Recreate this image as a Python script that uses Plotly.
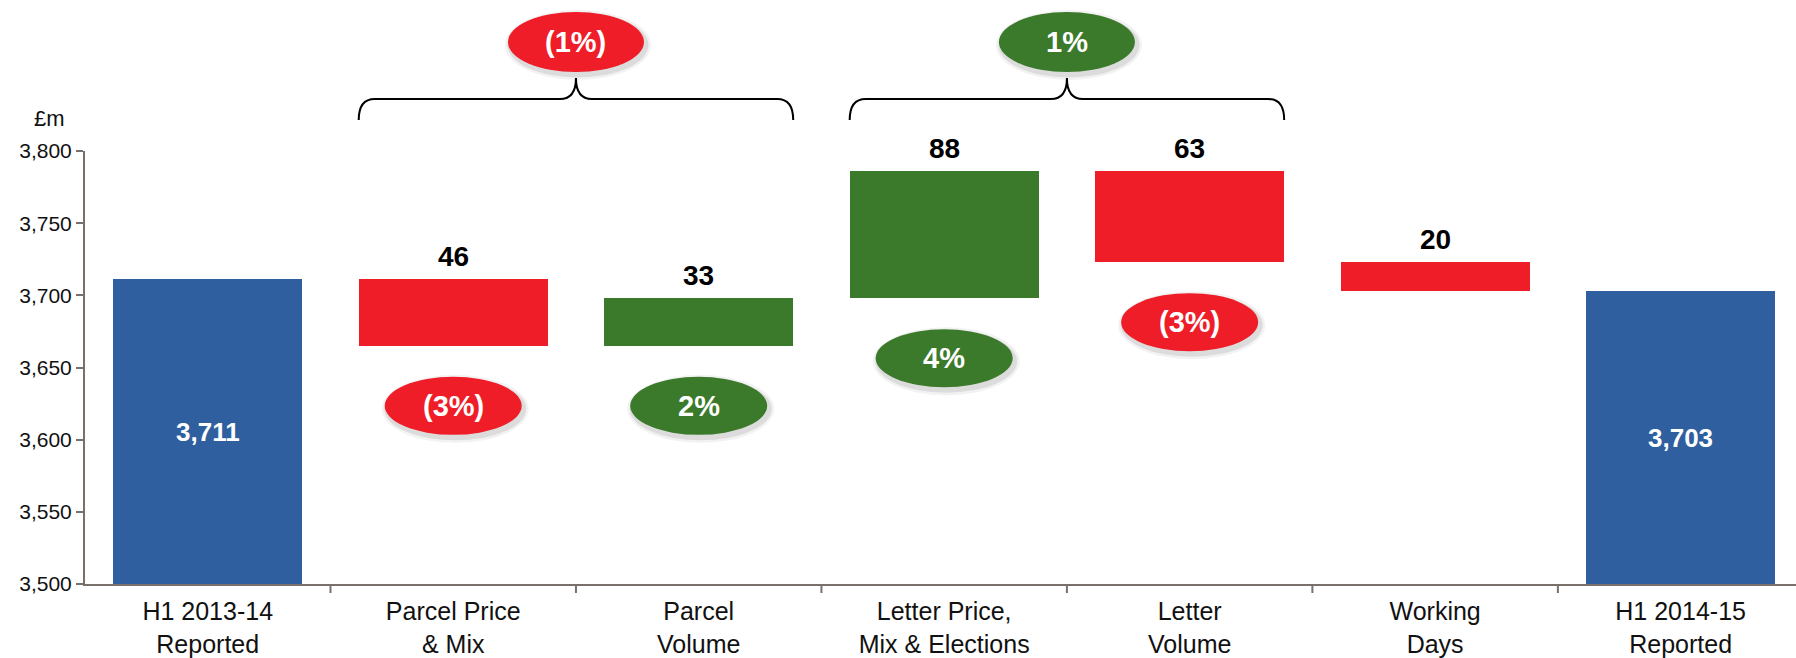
import plotly.graph_objects as go

# ---- data -------------------------------------------------------------
categories = [
    "H1 2013-14<br>Reported",
    "Parcel Price<br>& Mix",
    "Parcel<br>Volume",
    "Letter Price,<br>Mix & Elections",
    "Letter<br>Volume",
    "Working<br>Days",
    "H1 2014-15<br>Reported",
]
opening_total = 3711
movements = [-46, 33, 88, -63, -20]
closing_total = 3703
movement_pct = ["(3%)", "2%", "4%", "(3%)", None]
group_members = [(1, 2), (3, 4)]
group_pct = ["(1%)", "1%"]
y_ticks = [3500, 3550, 3600, 3650, 3700, 3750, 3800]

# ---- styling ----------------------------------------------------------
BLUE = "#305f9f"
RED = "#ee1d27"
GREEN = "#3b7a2b"
AXIS = "#7a706b"
FONT = "Liberation Sans, Arial, sans-serif"

W, H = 1796, 658
ML, MR, MT, MB = 85, 0, 151, 74
PW, PH = W - ML - MR, H - MT - MB
Y0, Y1 = y_ticks[0], y_ticks[-1]
XR0, XR1 = -0.5, 6.47
BAR_W = 0.77
CAT_PX = PW / (XR1 - XR0)

# ---- bar geometry from the running total -----------------------------
bases, heights, colors = [Y0], [opening_total - Y0], [BLUE]
level = opening_total
for d in movements:
    lo, hi = min(level, level + d), max(level, level + d)
    bases.append(lo)
    heights.append(hi - lo)
    colors.append(GREEN if d > 0 else RED)
    level += d
bases.append(Y0)
heights.append(closing_total - Y0)
colors.append(BLUE)


def cx_px(i):
    return ML + (i - XR0) * CAT_PX


def v_px(v):
    return MT + PH - (v - Y0) / (Y1 - Y0) * PH


def to_px_paper(x, y):
    return (x - ML) / PW, (MT + PH - y) / PH


fig = go.Figure(
    go.Bar(
        x=list(range(len(categories))),
        y=heights,
        base=bases,
        width=BAR_W,
        marker=dict(color=colors, line=dict(width=0)),
        hoverinfo="skip",
    )
)

shapes = []
annotations = []


def ellipse(cx, cy, w, h, color, text):
    # soft drop shadow, then the filled ellipse and its label
    for grow, alpha in ((10, 0.05), (5, 0.09)):
        ax0, ay0 = to_px_paper(cx - w / 2 - grow / 2 + 2, cy - h / 2 - grow / 2 + 3)
        ax1, ay1 = to_px_paper(cx + w / 2 + grow / 2 + 2, cy + h / 2 + grow / 2 + 3)
        shapes.append(dict(type="circle", xref="paper", yref="paper",
                           x0=ax0, x1=ax1, y0=ay1, y1=ay0,
                           fillcolor=f"rgba(0,0,0,{alpha})", line=dict(width=0)))
    ax0, ay0 = to_px_paper(cx - w / 2, cy - h / 2)
    ax1, ay1 = to_px_paper(cx + w / 2, cy + h / 2)
    shapes.append(dict(type="circle", xref="paper", yref="paper",
                       x0=ax0, x1=ax1, y0=ay1, y1=ay0,
                       fillcolor=color, line=dict(width=0)))
    tx, ty = to_px_paper(cx, cy)
    annotations.append(dict(x=tx, y=ty, xref="paper", yref="paper", text=text,
                            showarrow=False, xanchor="center", yanchor="middle",
                            font=dict(family=FONT, size=29, color="white", weight="bold")))


# value labels
for i, (b, h) in enumerate(zip(bases, heights)):
    if i in (0, len(categories) - 1):
        annotations.append(dict(x=i, y=b + h / 2, xref="x", yref="y",
                                text=f"{b + h:,}", showarrow=False,
                                xanchor="center", yanchor="middle",
                                font=dict(family=FONT, size=26, color="white", weight="bold")))
    else:
        annotations.append(dict(x=i, y=b + h, xref="x", yref="y",
                                text=f"{h}", showarrow=False, yshift=23,
                                xanchor="center", yanchor="middle",
                                font=dict(family=FONT, size=28, color="black", weight="bold")))

# percentage ellipses under each movement bar
for k, pct in enumerate(movement_pct):
    if pct is None:
        continue
    i = k + 1
    c = GREEN if movements[k] > 0 else RED
    ellipse(cx_px(i), v_px(bases[i]) + 60, 137, 58, c, pct)

# group brackets with their ellipses
for (a, b), pct in zip(group_members, group_pct):
    xl = cx_px(a) - BAR_W / 2 * CAT_PX
    xr = cx_px(b) + BAR_W / 2 * CAT_PX
    xm = (cx_px(a) + cx_px(b)) / 2
    yl, ye, yp, r = 99, 120, 78, 16
    pts = [
        ("M", [(xl, ye)]),
        ("Q", [(xl, yl), (xl + r, yl)]),
        ("L", [(xm - r, yl)]),
        ("Q", [(xm, yl), (xm, yp)]),
        ("Q", [(xm, yl), (xm + r, yl)]),
        ("L", [(xr - r, yl)]),
        ("Q", [(xr, yl), (xr, ye)]),
    ]
    path = ""
    for cmd, coords in pts:
        path += cmd + " " + " ".join(
            "{:.5f},{:.5f}".format(*to_px_paper(x, y)) for x, y in coords) + " "
    shapes.append(dict(type="path", xref="paper", yref="paper", path=path.strip(),
                       line=dict(color="black", width=2)))
    color = GREEN if not pct.startswith("(") else RED
    ellipse(xm, 42, 136, 60, color, pct)

# boundary ticks between categories along the x axis
for i in range(len(categories)):
    bx = (i + 0.5 - XR0) / (XR1 - XR0)
    if bx <= 1:
        shapes.append(dict(type="line", xref="paper", yref="paper",
                           x0=bx, x1=bx, y0=0, y1=-9 / PH,
                           line=dict(color=AXIS, width=2)))

# unit label
ux, uy = to_px_paper(67, 118)
annotations.append(dict(x=ux, y=uy, xref="paper", yref="paper", text="£m",
                        showarrow=False, xanchor="right", yanchor="middle",
                        font=dict(family=FONT, size=22, color="#111")))

fig.update_layout(
    width=W, height=H,
    margin=dict(l=ML, r=MR, t=MT, b=MB, pad=0),
    paper_bgcolor="white", plot_bgcolor="white",
    showlegend=False,
    shapes=shapes,
    annotations=annotations,
    bargap=0,
    xaxis=dict(
        range=[XR0, XR1],
        tickmode="array",
        tickvals=list(range(len(categories))),
        ticktext=categories,
        showline=True, linecolor=AXIS, linewidth=2,
        ticks="", ticklabelstandoff=4,
        showgrid=False, zeroline=False, automargin=False,
        tickfont=dict(family=FONT, size=25, color="#111"),
    ),
    yaxis=dict(
        range=[Y0, Y1],
        tickvals=y_ticks,
        tickformat=",",
        showline=True, linecolor=AXIS, linewidth=2,
        ticks="outside", ticklen=7, tickcolor=AXIS, tickwidth=2,
        showgrid=False, zeroline=False, automargin=False,
        tickfont=dict(family=FONT, size=21, color="#111"),
    ),
)

fig.write_html("out.html")
